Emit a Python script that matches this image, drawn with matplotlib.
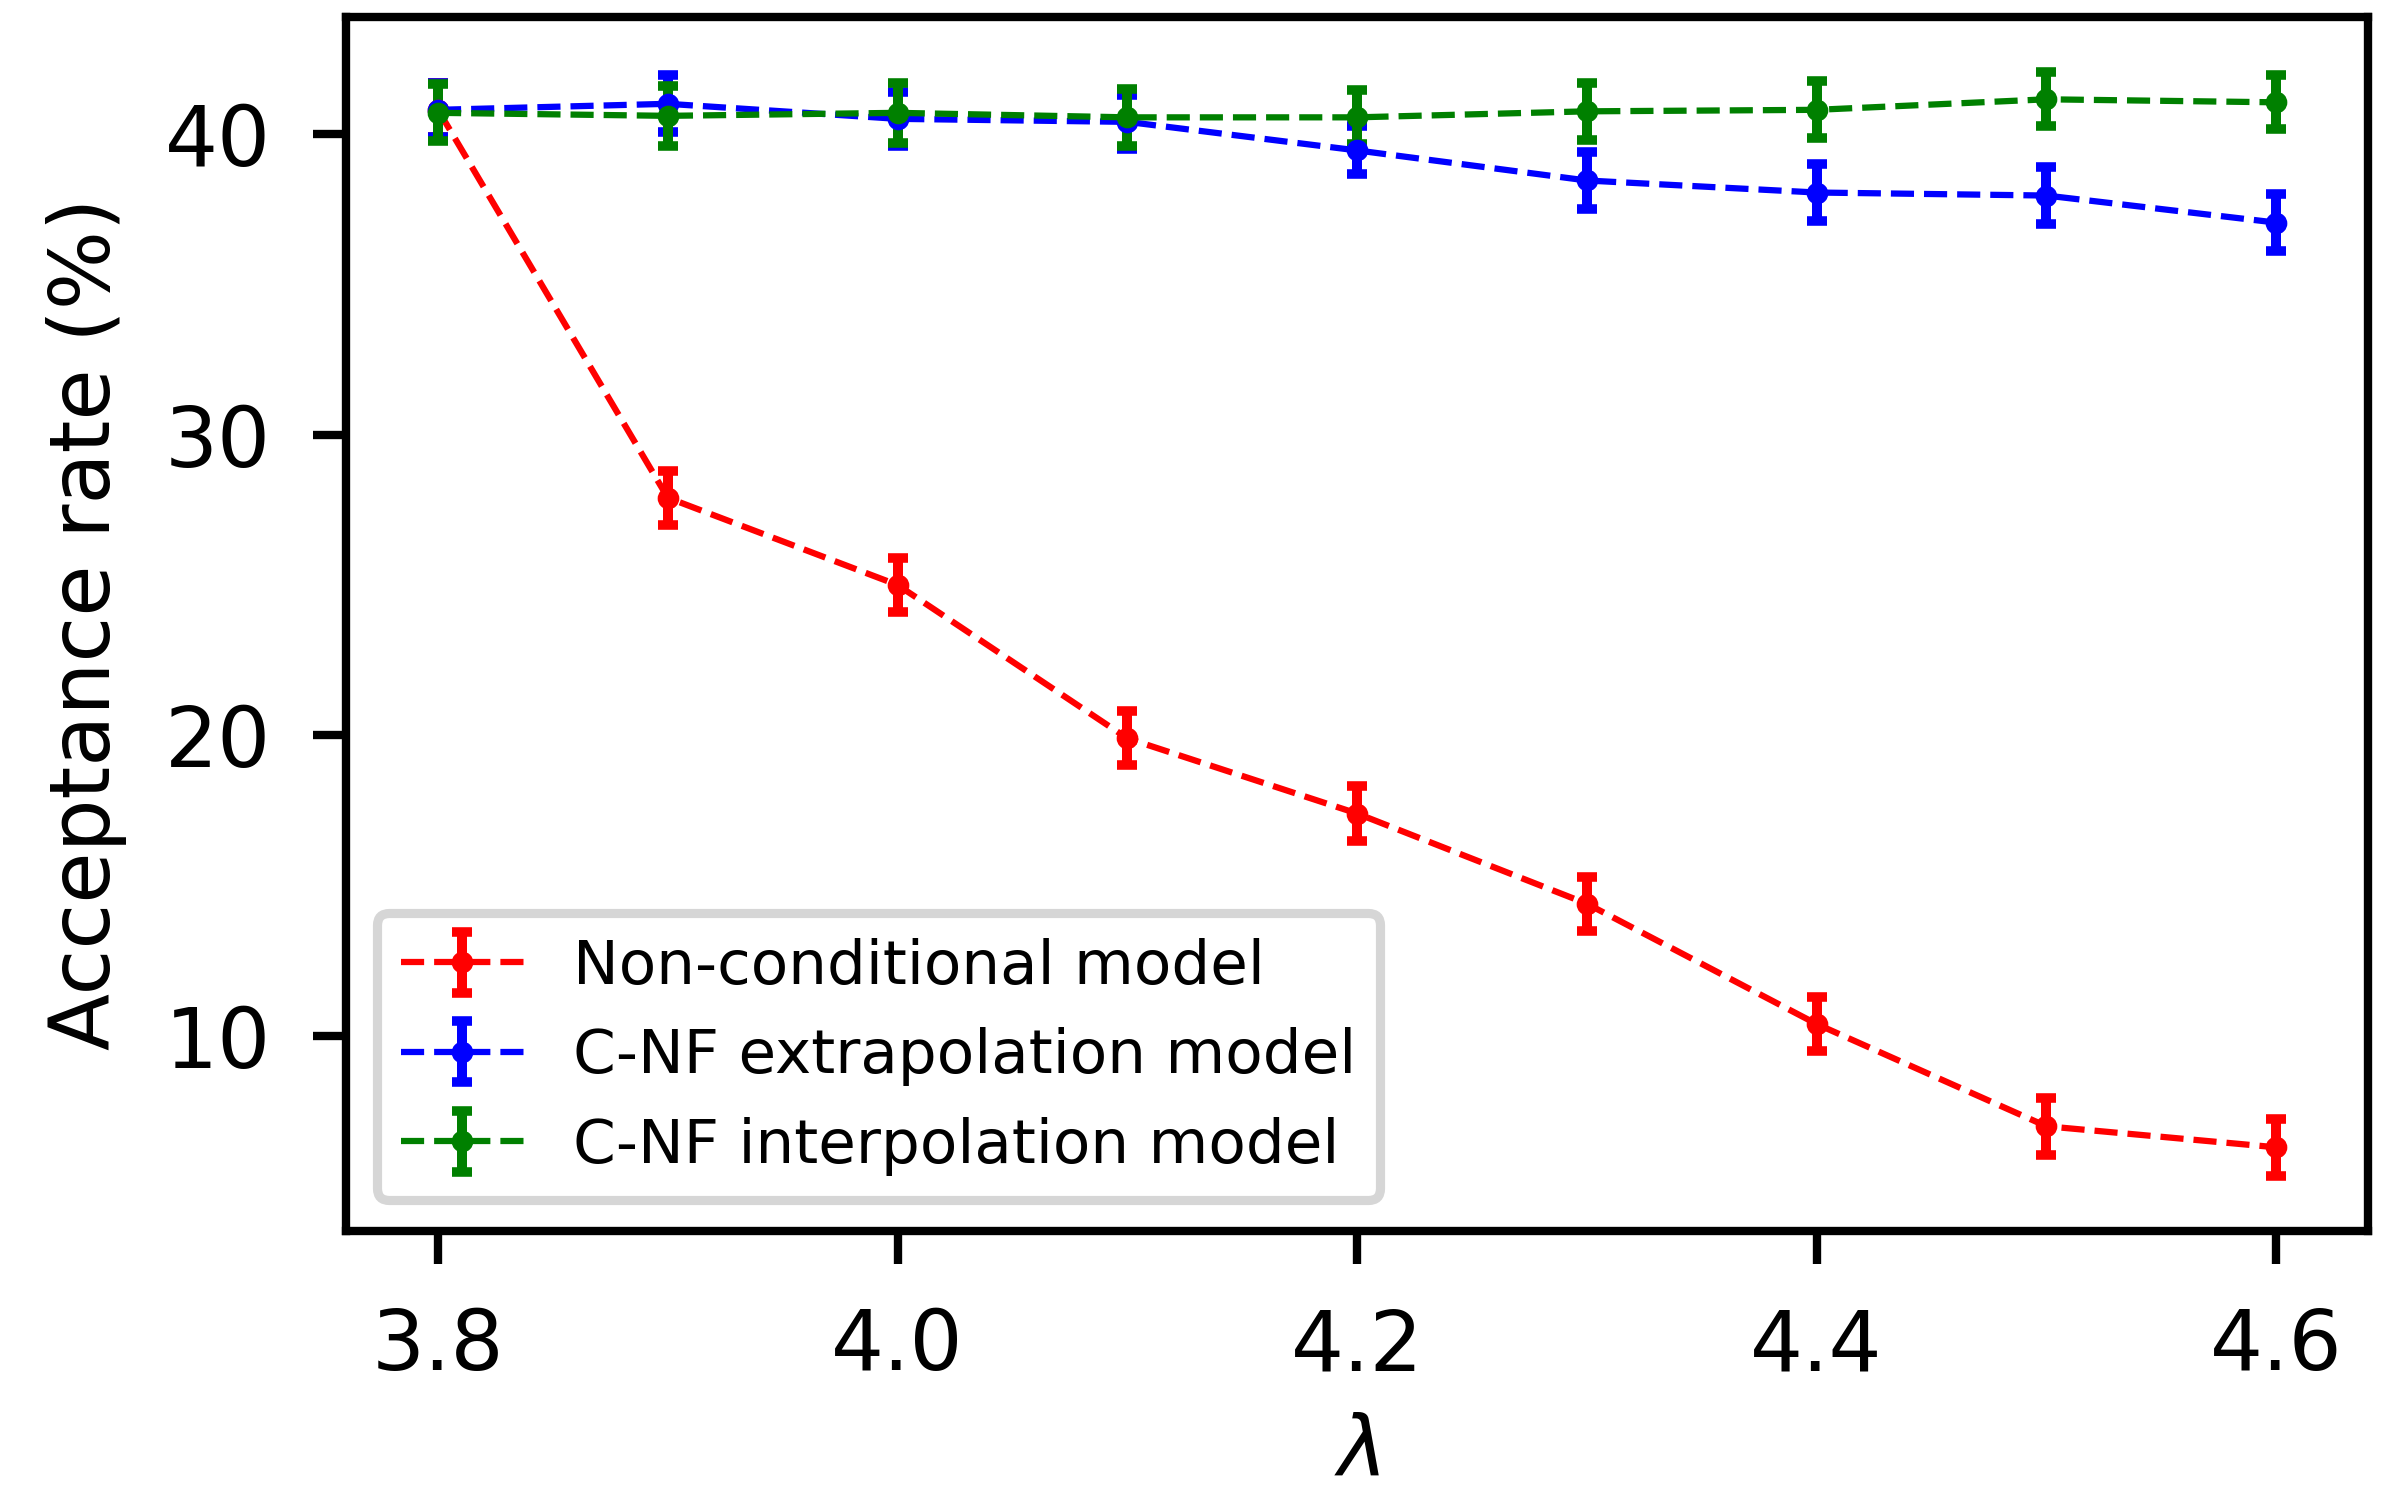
import numpy as np
import matplotlib
matplotlib.use('Agg')
import matplotlib.pyplot as plt

# lambda values
lam = [3.8, 3.9, 4.0, 4.1, 4.2, 4.3, 4.4, 4.5, 4.6]

# acceptance rate (%) and its error for each model
noncond = [40.8, 27.9, 25.0, 19.9, 17.4, 14.4, 10.4, 7.0, 6.3]
noncond_err = [0.9, 0.9, 0.9, 0.9, 0.9, 0.9, 0.9, 0.95, 0.95]

extrap = [40.8, 41.0, 40.5, 40.4, 39.45, 38.45, 38.05, 37.95, 37.05]
extrap_err = [0.9, 0.95, 0.9, 0.9, 0.8, 0.95, 0.95, 0.95, 0.95]

interp = [40.7, 40.6, 40.7, 40.55, 40.55, 40.75, 40.8, 41.15, 41.05]
interp_err = [0.95, 1.0, 1.0, 0.95, 0.9, 0.95, 0.95, 0.9, 0.9]

labels = ['Non-conditional model', 'C-NF extrapolation model', 'C-NF interpolation model']

fig = plt.figure(figsize=(2392 / 300, 1496 / 300), dpi=300)
ax = fig.add_axes([0.1447, 0.1771, 0.8453, 0.8115])

style = dict(fmt='--o', linewidth=1.5, markersize=4.2, elinewidth=2.4,
             capsize=2.4, capthick=2.3)
ax.errorbar(lam, noncond, yerr=noncond_err, color='red', label=labels[0], **style)
ax.errorbar(lam, extrap, yerr=extrap_err, color='blue', label=labels[1], **style)
ax.errorbar(lam, interp, yerr=interp_err, color='green', label=labels[2], **style)

ax.set_xticks([3.8, 4.0, 4.2, 4.4, 4.6])
ax.set_yticks([10, 20, 30, 40])
ax.tick_params(labelsize=20, length=8, width=2, pad=10)
for s in ax.spines.values():
    s.set_linewidth(2)

ax.set_xlabel(r'$\lambda$', fontsize=20, labelpad=6)
ax.set_ylabel('Acceptance rate (%)', fontsize=20, labelpad=9)

leg = ax.legend(loc='lower left', fontsize=14.7, borderaxespad=0.5)
leg.get_frame().set_linewidth(2.2)

fig.savefig('out.png', dpi=300)
